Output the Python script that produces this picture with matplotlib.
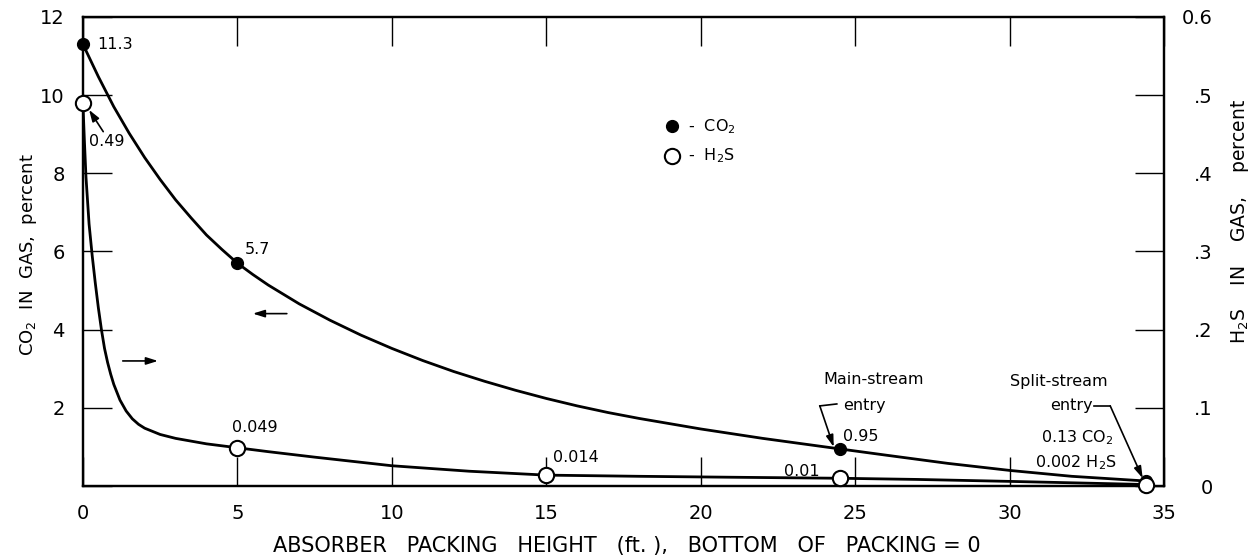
import numpy as np
import matplotlib.pyplot as plt

plt.rcParams['font.family'] = ['DejaVu Sans']
plt.rcParams['mathtext.default'] = 'regular'

# Measured points
co2_x = [0, 5, 24.5, 34.4]
co2_y = [11.3, 5.7, 0.95, 0.13]
h2s_x = [0, 5, 15, 24.5, 34.4]
h2s_y = [0.49, 0.049, 0.014, 0.01, 0.002]

# Faired curves through the points (CO2 in percent, H2S in percent)
co2_curve_x = [0, 0.5, 1.0, 1.5, 2.0, 2.5, 3.0, 3.5, 4.0, 4.5, 5.0, 5.5, 6.0,
               7.0, 8.0, 9.0, 10.0, 11.0, 12.0, 13.0, 14.0, 15.0, 16.0, 17.0,
               18.0, 20.0, 22.0, 24.5, 26.0, 28.0, 30.0, 32.0, 34.4]
co2_curve_y = [11.3, 10.47, 9.70, 9.02, 8.40, 7.84, 7.32, 6.86, 6.42, 6.05, 5.70,
               5.41, 5.14, 4.66, 4.24, 3.86, 3.52, 3.21, 2.93, 2.68, 2.45, 2.24,
               2.05, 1.88, 1.73, 1.46, 1.22, 0.95, 0.79, 0.58, 0.40, 0.25, 0.13]
h2s_curve_x = [0, 0.05, 0.1, 0.2, 0.3, 0.4, 0.5, 0.6, 0.7, 0.8, 0.9, 1.0, 1.2,
               1.4, 1.6, 1.8, 2.0, 2.5, 3.0, 4.0, 5.0, 6.0, 7.5, 10.0, 12.5,
               15.0, 18.0, 21.0, 24.5, 27.0, 30.0, 32.0, 34.4]
h2s_curve_y = [0.49, 0.44, 0.395, 0.335, 0.295, 0.26, 0.228, 0.20, 0.176, 0.158,
               0.143, 0.130, 0.110, 0.096, 0.086, 0.079, 0.074, 0.066, 0.061,
               0.054, 0.049, 0.044, 0.037, 0.026, 0.019, 0.014, 0.0125, 0.0113,
               0.010, 0.0085, 0.006, 0.0042, 0.002]

x_ticks = [0, 5, 10, 15, 20, 25, 30, 35]
co2_ticks = [0, 2, 4, 6, 8, 10, 12]
co2_labels = ['', '2', '4', '6', '8', '10', '12']
h2s_ticks = [0, 0.1, 0.2, 0.3, 0.4, 0.5, 0.6]
h2s_labels = ['0', '.1', '.2', '.3', '.4', '.5', '0.6']

fig = plt.figure(figsize=(12.56, 5.6), dpi=100)
ax = fig.add_axes([0.066, 0.132, 0.861, 0.838])
ax2 = ax.twinx()

ax.plot(co2_curve_x, co2_curve_y, color='black', lw=2.0, solid_joinstyle='round')
ax.plot(co2_x, co2_y, 'o', color='black', ms=8.5, clip_on=False, zorder=5)

ax2.plot(h2s_curve_x, h2s_curve_y, color='black', lw=2.0, solid_joinstyle='round')
ax2.plot(h2s_x, h2s_y, 'o', mfc='white', mec='black', mew=1.5, ms=11,
         clip_on=False, zorder=5)

ax.set_xlim(0, 35)
ax.set_ylim(0, 12)
ax2.set_ylim(0, 0.6)

ax.set_xticks(x_ticks)
ax.set_yticks(co2_ticks)
ax.set_yticklabels(co2_labels)
ax2.set_yticks(h2s_ticks)
ax2.set_yticklabels(h2s_labels)

ax.tick_params(axis='x', direction='in', length=21, width=1.0, top=True,
               labelsize=14, pad=13)
ax.tick_params(axis='y', direction='in', length=21, width=1.0, right=False,
               labelsize=14, pad=13)
ax2.tick_params(axis='y', direction='in', length=21, width=1.0, left=False,
                labelsize=14, pad=35)
for lab in ax2.get_yticklabels():
    lab.set_horizontalalignment('right')

for a in (ax, ax2):
    for s in a.spines.values():
        s.set_linewidth(1.6)

fig.text(0.499, 0.025,
         'ABSORBER   PACKING   HEIGHT   (ft. ),   BOTTOM   OF   PACKING = 0',
         fontsize=15, ha='center', va='center')
fig.text(0.0223, 0.545, 'CO$_2$  IN  GAS,  percent', rotation=90, fontsize=13,
         ha='center', va='center')
fig.text(0.987, 0.604, 'H$_2$S    IN    GAS,    percent', rotation=90,
         fontsize=13.5, ha='center', va='center')

fs = 11.5
ax.text(0.45, 11.3, '11.3', fontsize=fs, va='center')
ax.annotate('0.49', xy=(0.2, 9.62), xytext=(0.2, 8.8), fontsize=fs, va='center',
            arrowprops=dict(arrowstyle='-|>,head_length=0.6,head_width=0.2',
                            color='black', lw=1.2, shrinkA=0, shrinkB=0,
                            relpos=(0.45, 1.0)))
ax.text(5.25, 6.05, '5.7', fontsize=fs, va='center')
ax.text(5.55, 1.5, '0.049', fontsize=fs, ha='center', va='center')
ax.text(15.2, 0.72, '0.014', fontsize=fs, va='center')
ax.text(22.7, 0.37, '0.01', fontsize=fs, va='center')
ax.text(24.6, 1.26, '0.95', fontsize=fs, va='center')

# Legend
ax.plot([19.06], [9.2], 'o', color='black', ms=8.5)
ax.plot([19.06], [8.44], 'o', mfc='white', mec='black', mew=1.5, ms=11)
ax.text(19.6, 9.2, '-  CO$_2$', fontsize=fs, va='center')
ax.text(19.6, 8.44, '-  H$_2$S', fontsize=fs, va='center')

# Axis pointers
arrow = dict(arrowstyle='-|>,head_length=0.7,head_width=0.22', color='black',
             lw=1.2, shrinkA=0, shrinkB=0)
ax.annotate('', xy=(5.5, 4.41), xytext=(6.6, 4.41), arrowprops=arrow)
ax.annotate('', xy=(2.43, 3.2), xytext=(1.29, 3.2), arrowprops=arrow)

# Main-stream entry
ax.text(25.6, 2.72, 'Main-stream', fontsize=fs, ha='center', va='center')
ax.text(24.6, 2.05, 'entry', fontsize=fs, va='center')
ax.plot([23.85, 24.4], [2.05, 2.1], color='black', lw=1.2)
ax.annotate('', xy=(24.3, 1.0), xytext=(23.85, 2.05), arrowprops=arrow)

# Split-stream entry
ax.text(31.6, 2.67, 'Split-stream', fontsize=fs, ha='center', va='center')
ax.text(32.7, 2.05, 'entry', fontsize=fs, ha='right', va='center')
ax.plot([32.72, 33.25], [2.05, 2.05], color='black', lw=1.2)
ax.annotate('', xy=(34.3, 0.2), xytext=(33.25, 2.05), arrowprops=arrow)
ax.text(32.2, 1.23, '0.13 CO$_2$', fontsize=fs, ha='center', va='center')
ax.text(32.15, 0.59, '0.002 H$_2$S', fontsize=fs, ha='center', va='center')

fig.savefig('out.png', dpi=100)
